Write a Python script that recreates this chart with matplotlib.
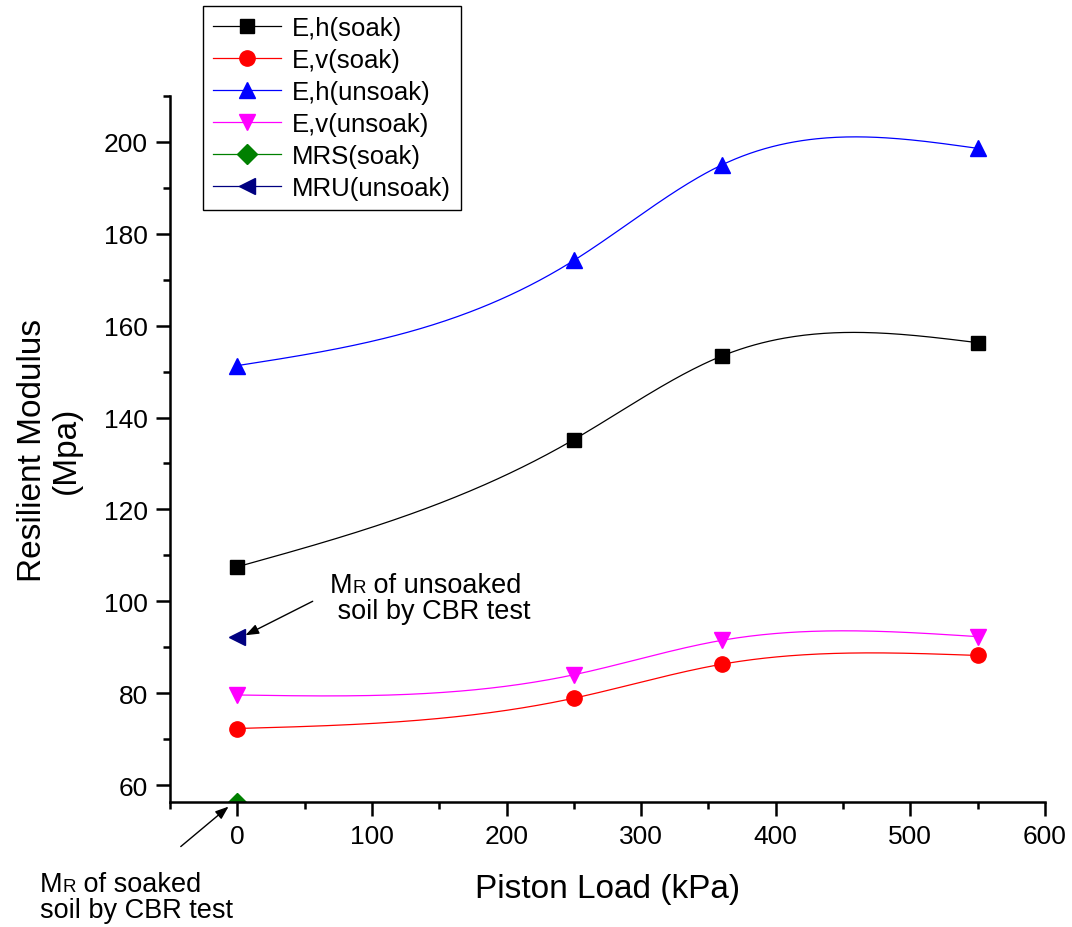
import numpy as np
import matplotlib
matplotlib.use('Agg')
import matplotlib.pyplot as plt
from matplotlib.ticker import MultipleLocator
from matplotlib.offsetbox import TextArea, HPacker, VPacker, AnnotationBbox

plt.rcParams['font.family'] = ['Liberation Sans', 'DejaVu Sans']

# Data
load = [0, 250, 360, 550]
eh_soak = [107.5, 135.2, 153.4, 156.3]
ev_soak = [72.3, 78.9, 86.3, 88.2]
eh_unsoak = [151.3, 174.2, 195.0, 198.6]
ev_unsoak = [79.6, 84.0, 91.5, 92.3]
mrs_load, mrs_val = [0], [56.0]
mru_load, mru_val = [0], [92.2]


# natural cubic spline, used only to draw the smooth connecting line
def spline_line(x, y, n=300):
    x = np.asarray(x, float)
    y = np.asarray(y, float)
    k = len(x)
    h = np.diff(x)
    A = np.zeros((k, k))
    b = np.zeros(k)
    A[0, 0] = A[-1, -1] = 1
    for i in range(1, k - 1):
        A[i, i - 1] = h[i - 1]
        A[i, i] = 2 * (h[i - 1] + h[i])
        A[i, i + 1] = h[i]
        b[i] = 6 * ((y[i + 1] - y[i]) / h[i] - (y[i] - y[i - 1]) / h[i - 1])
    M = np.linalg.solve(A, b)
    xs = np.linspace(x[0], x[-1], n)
    idx = np.clip(np.searchsorted(x, xs) - 1, 0, k - 2)
    x0, x1 = x[idx], x[idx + 1]
    hh = x1 - x0
    t0, t1 = x1 - xs, xs - x0
    ys = (M[idx] * t0 ** 3 + M[idx + 1] * t1 ** 3) / (6 * hh) \
        + (y[idx] / hh - M[idx] * hh / 6) * t0 \
        + (y[idx + 1] / hh - M[idx + 1] * hh / 6) * t1
    return xs, ys


fig = plt.figure(figsize=(10.72, 9.28), dpi=100)
ax = fig.add_axes([170 / 1072, 1 - 803 / 928, 875 / 1072, 706 / 928])

series = [
    (eh_soak, 'black', 's', 10, 'E,h(soak)'),
    (ev_soak, 'red', 'o', 11, 'E,v(soak)'),
    (eh_unsoak, 'blue', '^', 12, 'E,h(unsoak)'),
    (ev_unsoak, 'magenta', 'v', 12, 'E,v(unsoak)'),
]
handles = []
for vals, col, mk, ms, lab in series:
    xs, ys = spline_line(load, vals)
    ax.plot(xs, ys, color=col, lw=0.9)
    ax.plot(load, vals, ls='none', marker=mk, ms=ms, color=col)
    handles.append(plt.Line2D([], [], color=col, lw=0.9, marker=mk, ms=ms, label=lab))

ax.plot(mrs_load, mrs_val, ls='none', marker='D', ms=10, color='green')
handles.append(plt.Line2D([], [], color='green', lw=0.9, marker='D', ms=10, label='MRS(soak)'))
ax.plot(mru_load, mru_val, ls='none', marker='<', ms=12, color='navy')
handles.append(plt.Line2D([], [], color='navy', lw=0.9, marker='<', ms=12, label='MRU(unsoak)'))

ax.set_xlim(-50, 600)
ax.set_ylim(56.3, 210)
ax.spines['top'].set_visible(False)
ax.spines['right'].set_visible(False)
for s in ['left', 'bottom']:
    ax.spines[s].set_linewidth(1.8)
ax.xaxis.set_major_locator(MultipleLocator(100))
ax.xaxis.set_minor_locator(MultipleLocator(50))
ax.yaxis.set_major_locator(MultipleLocator(20))
ax.yaxis.set_minor_locator(MultipleLocator(10))
ax.tick_params(which='major', direction='out', length=10, width=1.8, labelsize=19, pad=6)
ax.tick_params(which='minor', direction='out', length=5, width=1.8)

ax.set_xlabel('Piston Load (kPa)', fontsize=24, labelpad=18)
ax.set_ylabel('Resilient Modulus\n(Mpa)', fontsize=24, labelpad=16, linespacing=1.1)

fig.legend(handles=handles, loc='upper left', bbox_to_anchor=(203 / 1072, 1 - 7 / 928),
           fontsize=18.5, frameon=True, fancybox=False, edgecolor='black', framealpha=1,
           borderaxespad=0, handlelength=2.65, handletextpad=0.4, labelspacing=0.31,
           borderpad=0.4)


def mr_text(rest, second):
    line1 = HPacker(children=[TextArea('M', textprops=dict(size=19.5)),
                              TextArea('R', textprops=dict(size=13.5)),
                              TextArea(rest, textprops=dict(size=19.5))],
                    align='baseline', pad=0, sep=0)
    line2 = TextArea(second, textprops=dict(size=19.5))
    return VPacker(children=[line1, line2], align='left', pad=0, sep=0)


ab1 = AnnotationBbox(mr_text(' of unsoaked', ' soil by CBR test'), (330 / 1072, 1 - 599 / 928),
                     xycoords='figure fraction', box_alignment=(0, 0.5), frameon=False,
                     annotation_clip=False)
fig.add_artist(ab1)
ab2 = AnnotationBbox(mr_text(' of soaked', 'soil by CBR test'), (40 / 1072, 1 - 898 / 928),
                     xycoords='figure fraction', box_alignment=(0, 0.5), frameon=False,
                     annotation_clip=False)
fig.add_artist(ab2)

arrow = dict(arrowstyle='-|>,head_length=0.8,head_width=0.3', color='black', lw=1, shrinkA=0, shrinkB=0)
ax.annotate('', xy=(6, 92.6), xytext=(56, 100.0), arrowprops=arrow, annotation_clip=False)
ax.annotate('', xy=(-6.5, 55.3), xytext=(-42, 46.6), arrowprops=arrow, annotation_clip=False)

fig.savefig('out.png', dpi=100)
